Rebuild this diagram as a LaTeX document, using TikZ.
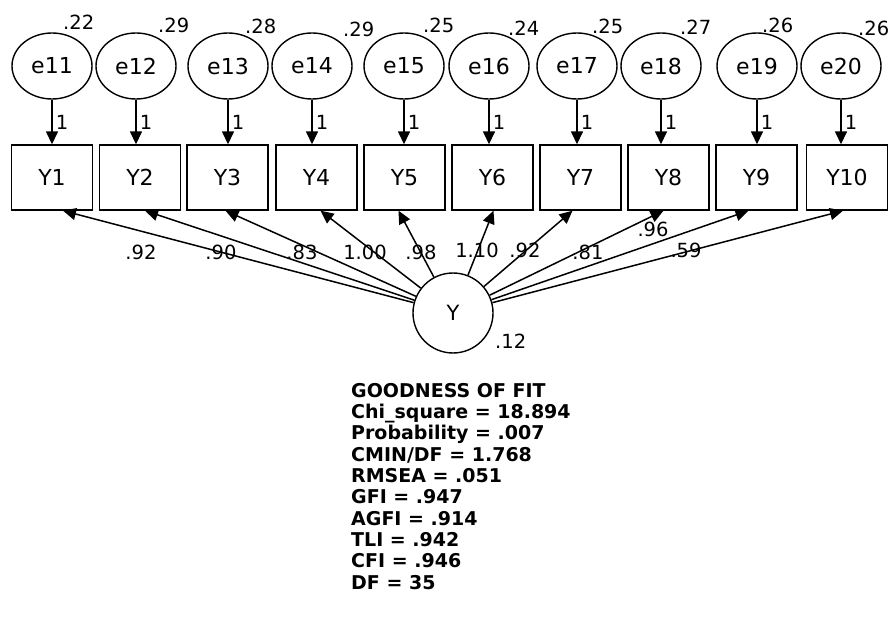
\documentclass[tikz,border=0pt]{standalone}
\usepackage{fontspec}
\setmainfont{DejaVu Sans}
\usetikzlibrary{shapes.geometric,arrows.meta}
\begin{document}
\begin{tikzpicture}[x=1pt,y=-1pt,
 lat/.style={draw,ellipse,minimum width=80pt,minimum height=66pt,inner sep=0pt,line width=1.4pt,font=\fontsize{22}{26}\selectfont},
 obs/.style={draw,rectangle,minimum width=81pt,minimum height=65pt,inner sep=0pt,line width=1.4pt,font=\fontsize{22}{26}\selectfont},
 fac/.style={draw,circle,minimum size=80pt,inner sep=0pt,line width=1.4pt,font=\fontsize{21}{25}\selectfont},
 arr/.style={line width=1.5pt,-{Triangle[length=13pt,width=12pt]}},
 num/.style={font=\fontsize{19.5}{22}\selectfont,inner sep=0pt},
 one/.style={font=\fontsize{19.5}{22}\selectfont,inner sep=0pt,anchor=west,xshift=3pt},
]
\useasboundingbox[fill=white] (0,0) rectangle (895,639);
% error ellipses
\foreach \n/\x in {11/52,12/136,13/228,14/312,15/404,16/489,17/577,18/661,19/757,20/841}
  \node[lat] (e\n) at (\x,66) {e\n};
% observed boxes
\foreach \n/\x in {1/52,2/140,3/227.5,4/316.5,5/404.5,6/492.5,7/580.5,8/668.5,9/756.5,10/847}
  \node[obs] (Y\n) at (\x,177.5) {Y\n};
% factor
\node[fac] (Y) at (453,313) {Y};
\node[num,anchor=west] (vY) at (495,341) {.12};
% error arrows
\foreach \e/\y in {11/1,12/2,13/3,14/4,15/5,16/6,17/7,18/8,19/9,20/10}
  \draw[arr] (e\e.south) -- (e\e.south |- Y\y.north) node[one,midway] {1};
% variances of errors
\node[num,anchor=west] (v11) at (63,22) {.22};
\node[num,anchor=west] (v12) at (158,25) {.29};
\node[num,anchor=west] (v13) at (245,26) {.28};
\node[num,anchor=west] (v14) at (343,29) {.29};
\node[num,anchor=west] (v15) at (423,25) {.25};
\node[num,anchor=west] (v16) at (508,28) {.24};
\node[num,anchor=west] (v17) at (592,26) {.25};
\node[num,anchor=west] (v18) at (680,27) {.27};
\node[num,anchor=west] (v19) at (762,25) {.26};
\node[num,anchor=west] (v20) at (858,28) {.26};
% loadings
\foreach \n/\dx in {1/11,2/5,3/-2,4/4,5/-6,6/1,7/-8,8/-5,9/-8,10/-4}
  \draw[arr] (Y) -- ([xshift=\dx pt]Y\n.south);
\node[num] (l1) at (141,252) {.92};
\node[num] (l2) at (221,252) {.90};
\node[num] (l3) at (302,252) {.83};
\node[num] (l4) at (365,252) {1.00};
\node[num] (l5) at (421,252) {.98};
\node[num] (l6) at (477,250) {1.10};
\node[num] (l7) at (525,250) {.92};
\node[num] (l8) at (588,252) {.81};
\node[num] (l9) at (653,229) {.96};
\node[num] (l10) at (686,250) {.59};
% fit statistics
\node[anchor=north west,align=left,inner sep=0pt,font=\bfseries\fontsize{19}{21.3}\selectfont] (fit) at (351,383)
 {GOODNESS OF FIT\\Chi\_square = 18.894\\Probability = .007\\CMIN/DF = 1.768\\RMSEA = .051\\GFI = .947\\AGFI = .914\\TLI = .942\\CFI = .946\\DF = 35};
\end{tikzpicture}
\end{document}
